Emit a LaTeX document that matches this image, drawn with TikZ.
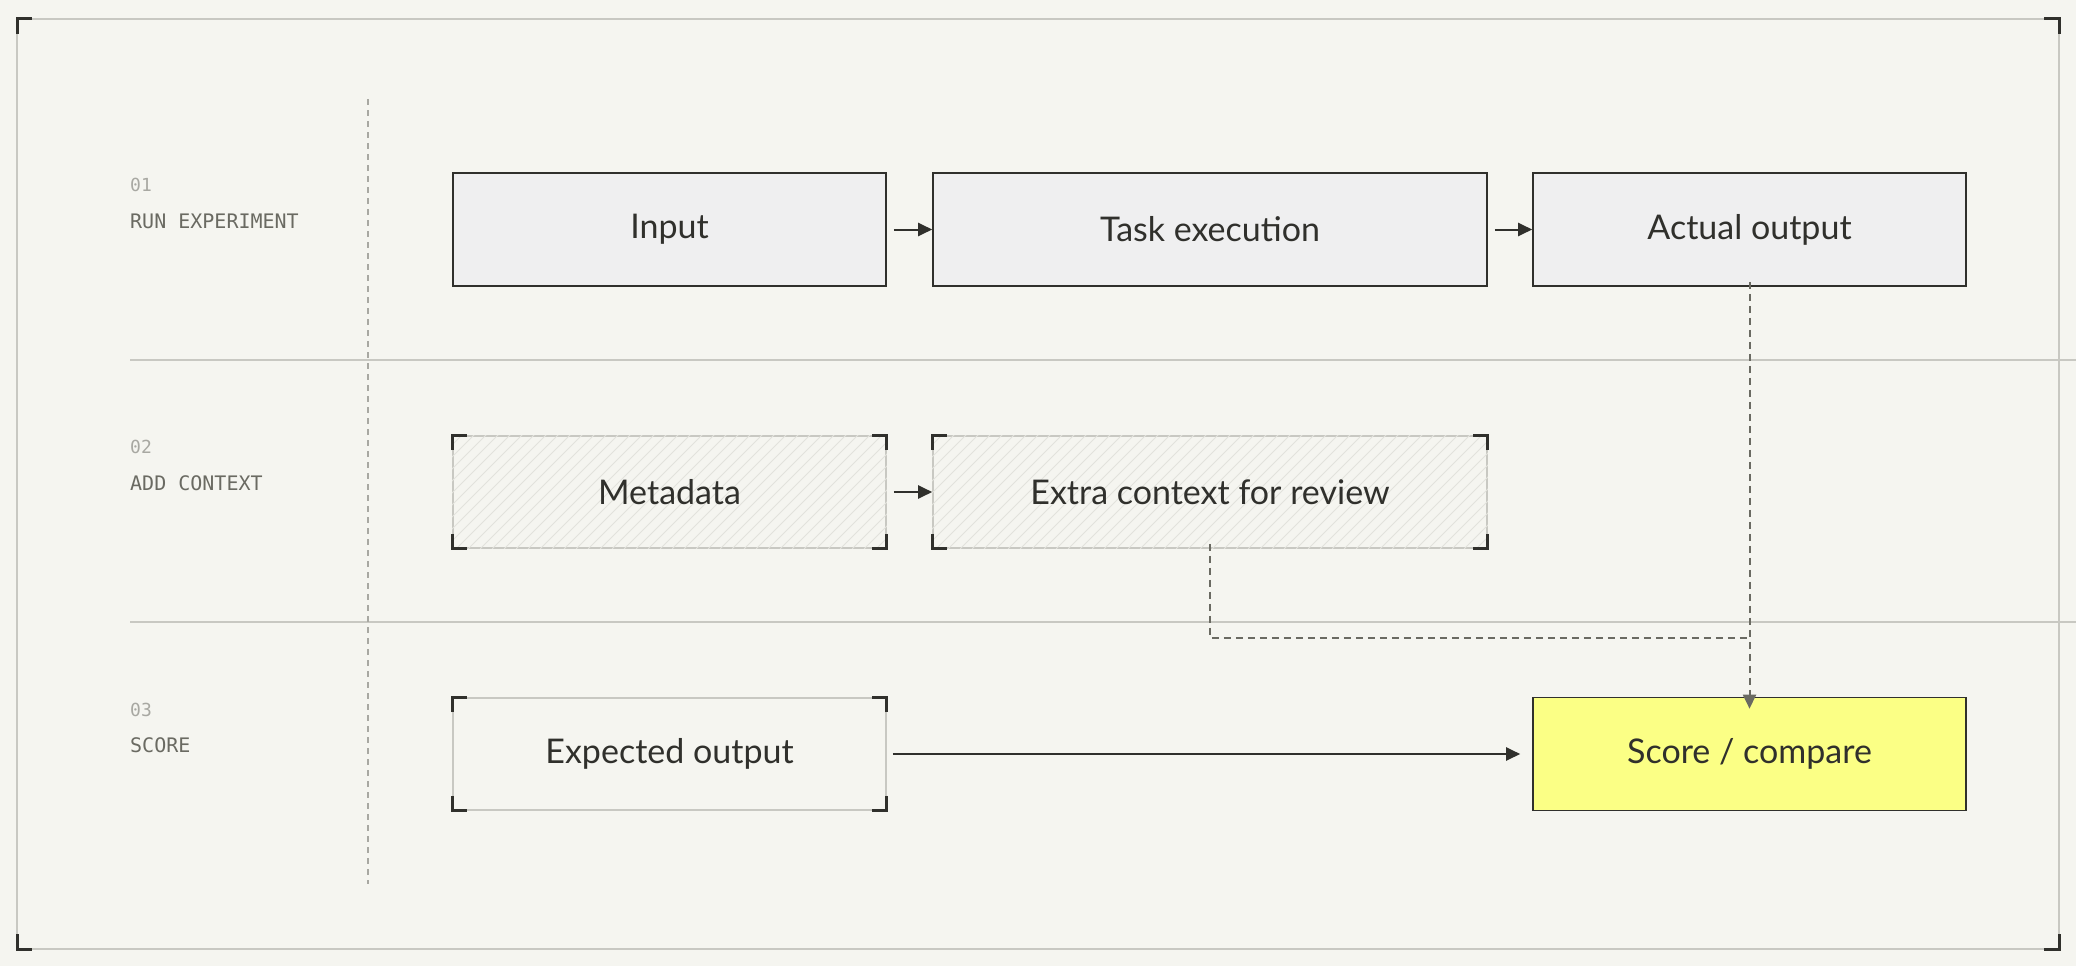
\documentclass[tikz,border=0pt]{standalone}
\usepackage{fontspec}
\setmainfont{Lato}
\setmonofont{DejaVu Sans Mono}
\usetikzlibrary{arrows.meta}
\definecolor{bg}{HTML}{F5F5F0}
\definecolor{boxfill}{HTML}{EFEFF0}
\definecolor{ink}{HTML}{30302C}
\definecolor{rule}{HTML}{C8C8C2}
\definecolor{hatch}{HTML}{E2E2DC}
\definecolor{ylw}{HTML}{FBFF85}
\definecolor{lbl}{HTML}{6A6A62}
\definecolor{num}{HTML}{A8A8A2}
\tikzset{
 x=1pt,y=-1pt,
 solidbox/.style={draw=ink,line width=1.6pt,fill=boxfill,minimum width=433pt,minimum height=113pt,inner sep=0pt,font=\fontsize{34}{40}\selectfont,text=ink},
 softbox/.style={draw=rule,line width=1.6pt,minimum width=433pt,minimum height=112pt,inner sep=0pt,font=\fontsize{34}{40}\selectfont,text=ink},
 flow/.style={draw=ink,line width=2pt,-{Triangle[length=14pt,width=13pt]}},
 dflow/.style={draw=lbl,line width=2pt,dash pattern=on 7pt off 5pt},
 numlbl/.style={anchor=west,font=\ttfamily\fontsize{18}{20}\selectfont,text=num,inner sep=0pt},
 namelbl/.style={anchor=west,font=\ttfamily\fontsize{20}{22}\selectfont,text=lbl,inner sep=0pt},
}
\newcommand{\brk}[1]{%
 \draw[ink,line width=3pt] ([xshift=0pt,yshift=-15pt]#1.north west) -- (#1.north west) -- ([xshift=15pt]#1.north west);
 \draw[ink,line width=3pt] ([yshift=-15pt]#1.north east) -- (#1.north east) -- ([xshift=-15pt]#1.north east);
 \draw[ink,line width=3pt] ([yshift=15pt]#1.south west) -- (#1.south west) -- ([xshift=15pt]#1.south west);
 \draw[ink,line width=3pt] ([yshift=15pt]#1.south east) -- (#1.south east) -- ([xshift=-15pt]#1.south east);}
\newcommand{\hatchit}[1]{%
 \begin{scope}
 \clip (#1.north west) rectangle (#1.south east);
 \foreach \k in {-200,-188,...,600} {\draw[hatch,line width=1pt] ($(#1.south west)+(\k,0)$) -- ++(120,-120);}
 \end{scope}}
\usetikzlibrary{calc}
\begin{document}
\begin{tikzpicture}
\useasboundingbox (0,0) rectangle (2076,966);
\fill[bg] (0,0) rectangle (2076,966);
% frame
\draw[rule,line width=1.6pt] (17,19) rectangle (2059,949);
\draw[ink,line width=3pt] (17,34) -- (17,19) -- (32,19);
\draw[ink,line width=3pt] (2044,19) -- (2059,19) -- (2059,34);
\draw[ink,line width=3pt] (17,934) -- (17,949) -- (32,949);
\draw[ink,line width=3pt] (2044,949) -- (2059,949) -- (2059,934);
% rules
\draw[rule,line width=1.6pt] (130,360) -- (2076,360);
\draw[rule,line width=1.6pt] (130,622) -- (2076,622);
\draw[num,line width=1.6pt,dash pattern=on 6pt off 5pt] (368,99) -- (368,884);
% labels
\node[numlbl] (n1) at (130,185) {01};
\node[namelbl] (l1) at (130,221) {RUN EXPERIMENT};
\node[numlbl] (n2) at (130,447) {02};
\node[namelbl] (l2) at (130,483) {ADD CONTEXT};
\node[numlbl] (n3) at (130,710) {03};
\node[namelbl] (l3) at (130,745) {SCORE};
% row 1
\node[solidbox] (in) at (669.5,229.5) {Input};
\node[solidbox,minimum width=554pt] (task) at (1210,229.5) {Task execution};
\node[solidbox] (act) at (1749.5,229.5) {Actual output};
% row 2
\node[softbox] (meta) at (669.5,492) {};
\node[softbox,minimum width=554pt] (extra) at (1210,492) {};
\hatchit{meta}\hatchit{extra}
\node[font=\fontsize{34}{40}\selectfont,text=ink] at (meta) {Metadata};
\node[font=\fontsize{34}{40}\selectfont,text=ink] at (extra) {Extra context for review};
\brk{meta}\brk{extra}
% row 3
\node[softbox] (exp) at (669.5,754) {Expected output};
\brk{exp}
\node[solidbox,fill=ylw] (score) at (1749.5,754) {Score / compare};
% arrows
\draw[flow] ([xshift=7pt]in.east) -- (task.west);
\draw[flow] ([xshift=7pt]task.east) -- (act.west);
\draw[flow] ([xshift=7pt]meta.east) -- (extra.west);
\draw[flow] ([xshift=6pt]exp.east) -- ([xshift=-12pt]score.west);
\coordinate (j) at (1750,638);
\draw[dflow] ([yshift=5pt]extra.south) |- (j);
\draw[dflow,-{Triangle[length=14pt,width=13pt]}] ([yshift=5pt]act.south) -- ([yshift=-12pt]score.north);
\end{tikzpicture}
\end{document}
